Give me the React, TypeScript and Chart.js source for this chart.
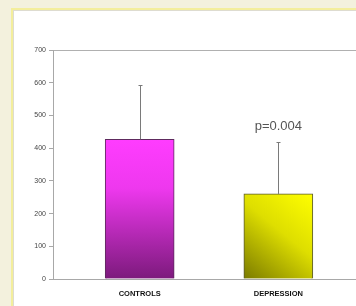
import React, { useEffect, useRef } from "react";
import { Chart, registerables } from "chart.js";

Chart.register(...registerables);

const categories = ["CONTROLS", "DEPRESSION"];
const means = [427, 260];
const errorTops = [593, 418];
const yTicks = [0, 100, 200, 300, 400, 500, 600, 700];
const annotationText = "p=0.004";
const annotationIndex = 1;
const annotationValue = 465;

const errorBarPlugin = {
  id: "errorBars",
  afterDatasetsDraw(chart: any) {
    const { ctx, scales } = chart;
    const x = scales.x;
    const y = scales.y;
    ctx.save();
    ctx.strokeStyle = "#7a7a7a";
    ctx.lineWidth = 1;
    means.forEach((m, i) => {
      const px = Math.round(x.getPixelForValue(i)) + 0.5;
      const y0 = y.getPixelForValue(m);
      const y1 = Math.round(y.getPixelForValue(errorTops[i])) + 0.5;
      ctx.beginPath();
      ctx.moveTo(px, y0);
      ctx.lineTo(px, y1);
      ctx.moveTo(px - 2, y1);
      ctx.lineTo(px + 2, y1);
      ctx.stroke();
    });
    ctx.fillStyle = "#555555";
    ctx.font = "13px 'Liberation Sans', Arial, sans-serif";
    ctx.textAlign = "center";
    ctx.textBaseline = "middle";
    ctx.fillText(
      annotationText,
      x.getPixelForValue(annotationIndex),
      y.getPixelForValue(annotationValue)
    );
    ctx.restore();
  },
};

function barFill(context: any) {
  const chart = context.chart;
  const i = context.dataIndex;
  const fallback = i === 0 ? "#e030e0" : "#d8d800";
  const xs = chart.scales && chart.scales.x;
  const ys = chart.scales && chart.scales.y;
  if (!xs || !ys || i === undefined) return fallback;
  const cx = xs.getPixelForValue(i);
  const top = ys.getPixelForValue(means[i]);
  const bottom = ys.getPixelForValue(0);
  if (![cx, top, bottom].every((v) => Number.isFinite(v)) || bottom - top < 1) return fallback;
  const ctx = chart.ctx;
  if (i === 0) {
    const g = ctx.createLinearGradient(0, top, 0, bottom);
    g.addColorStop(0, "#ff3cff");
    g.addColorStop(0.35, "#ee38ee");
    g.addColorStop(1, "#7c1a7c");
    return g;
  }
  const half = 35;
  const g = ctx.createLinearGradient(cx + half, top, cx - half, bottom);
  g.addColorStop(0, "#ffff00");
  g.addColorStop(0.45, "#dede00");
  g.addColorStop(1, "#7a7a00");
  return g;
}

export default function App() {
  const ref = useRef<HTMLCanvasElement>(null);
  useEffect(() => {
    document.body.style.margin = "0";
    const chart = new Chart(ref.current as HTMLCanvasElement, {
      type: "bar",
      data: {
        datasets: [
          {
            data: means.map((v, i) => ({ x: i, y: v })),
            backgroundColor: barFill as any,
            borderColor: ["#5e2a5e", "#5a5a30"],
            borderWidth: 1,
            borderSkipped: "bottom",
            barThickness: 69,
          },
        ],
      },
      options: {
        animation: false,
        responsive: false,
        maintainAspectRatio: false,
        layout: { padding: { left: 0, top: 50, right: 0, bottom: 0 } },
        plugins: {
          legend: { display: false },
          tooltip: { enabled: false },
        },
        scales: {
          x: {
            type: "linear",
            offset: false,
            min: -0.625,
            max: 1.56,
            afterBuildTicks: (s: any) => {
              s.ticks = categories.map((_, i) => ({ value: i }));
            },
            afterFit: (s: any) => {
              s.height = 27;
            },
            grid: { display: false, drawTicks: false },
            border: { display: true, color: "#a8a8a8", width: 1 },
            ticks: {
              padding: 10,
              color: "#111111",
              font: { family: "'Liberation Sans', Arial, sans-serif", size: 7.5, weight: "bold" },
              callback: (v: any) => categories[v] ?? "",
              maxRotation: 0,
              autoSkip: false,
            },
          },
          y: {
            min: 0,
            max: 700,
            afterBuildTicks: (s: any) => {
              s.ticks = yTicks.map((v) => ({ value: v }));
            },
            afterFit: (s: any) => {
              s.width = 53;
            },
            grid: {
              color: (c: any) => (c.tick && c.tick.value === 700 ? "#b0b0b0" : "rgba(0,0,0,0)"),
              tickColor: "#a8a8a8",
              tickLength: 4,
              lineWidth: 1,
            },
            border: { display: true, color: "#a8a8a8", width: 1 },
            ticks: {
              padding: 3,
              color: "#444444",
              font: { family: "'Liberation Sans', Arial, sans-serif", size: 7 },
            },
          },
        },
      } as any,
      plugins: [errorBarPlugin],
    });
    return () => chart.destroy();
  }, []);

  return (
    <div
      style={{
        position: "relative",
        width: 356,
        height: 306,
        overflow: "hidden",
        background: "#f3f1dd",
      }}
    >
      <div
        style={{
          position: "absolute",
          left: 11,
          top: 8,
          width: 360,
          height: 310,
          background: "#ffffff",
          borderLeft: "2px solid #f3ee9c",
          borderTop: "2px solid #f3ee9c",
          boxShadow: "inset 1px 1px 0 #dedcd0",
        }}
      />
      <canvas
        ref={ref}
        width={356}
        height={306}
        style={{ position: "absolute", left: 0, top: 0, width: 356, height: 306 }}
      />
    </div>
  );
}
